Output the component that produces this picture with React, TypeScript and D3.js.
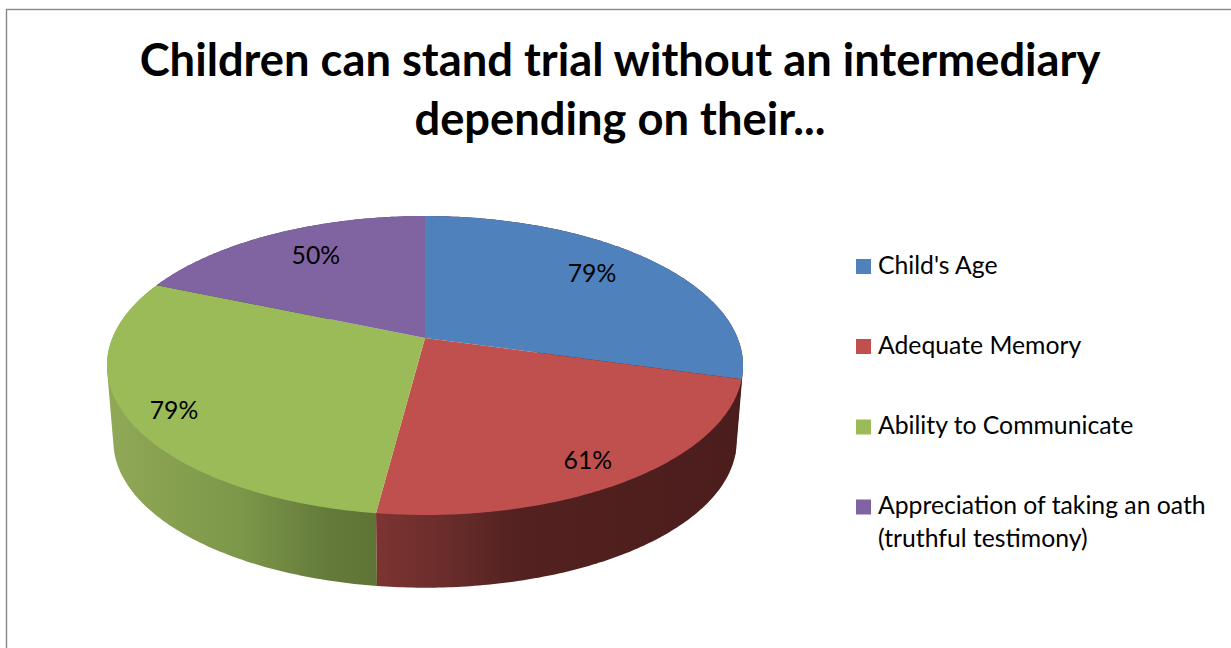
import React from "react";
import * as d3 from "d3";

const titleLines = ["Children can stand trial without an intermediary", "depending on their..."];
const categories = ["Child's Age", "Adequate Memory", "Ability to Communicate", "Appreciation of taking an oath"];
const legendExtraLine = [null, null, null, "(truthful testimony)"];
const values = [79, 61, 79, 50];
const valueLabels = ["79%", "61%", "79%", "50%"];
const colors = ["#4f81bd", "#c0504d", "#9bbb59", "#8064a2"];

// Shading along the side wall, per slice: [x, colour] stops
const sideStops: [number, string][][] = [
  [[700, "#4a1d1c"], [745, "#4a1d1c"]],
  [[377, "#7c3431"], [450, "#682c2a"], [520, "#522120"], [640, "#4f1f1e"], [745, "#4a1d1c"]],
  [[107, "#8fa957"], [240, "#7d9749"], [330, "#637a3a"], [377, "#5e7436"]],
  [[107, "#4d3c62"], [200, "#4d3c62"]],
];
const sideOrder = [0, 3, 2, 1];

const W = 1231;
const H = 648;
const FONT = "Lato, Carlito, Calibri, sans-serif";

// perspective disc: unit circle (u, v) -> screen
const CX = 425;
const K = 0.184;
const project = (bx: number, ay: number, y0: number) => (angle: number, r = 1): [number, number] => {
  const u = r * Math.sin(angle);
  const v = -r * Math.cos(angle);
  const d = 1 - K * v;
  return [CX + (bx * u) / d, y0 + (ay * v) / d];
};
const topDisc = project(312.6, 144.4, 338);
const bottomDisc = project(306.3, 141.5, 414.3);

// label anchor for each slice, as disc polar coordinates: [offset from mid angle (rad), radius]
const labelPolar: [number, number][] = [
  [-0.0445, 0.756],
  [0.035, 0.863],
  [-0.042, 0.868],
  [0.038, 0.752],
];

const legendRows = [273.5, 353.5, 434, 514];

export default function App() {
  const arcs = d3.pie<number>().sort(null)(values);
  const line = d3.line();
  const arcPoints = (disc: typeof topDisc, a0: number, a1: number) =>
    d3.range(0, 121).map((i) => disc(a0 + ((a1 - a0) * i) / 120));

  return (
    <svg
      width={W}
      height={H}
      style={{ position: "absolute", left: 0, top: 0, display: "block", background: "#fff" }}
    >
      <defs>
        {sideStops.map((stops, i) => {
          const x = d3.scaleLinear().domain([stops[0][0], stops[stops.length - 1][0]]).range([0, 1]);
          return (
            <linearGradient
              key={i}
              id={`side${i}`}
              gradientUnits="userSpaceOnUse"
              x1={stops[0][0]}
              x2={stops[stops.length - 1][0]}
              y1={0}
              y2={0}
            >
              {stops.map(([p, c], j) => (
                <stop key={j} offset={x(p)} stopColor={c} />
              ))}
            </linearGradient>
          );
        })}
      </defs>
      <rect x={6.5} y={9.5} width={W + 20} height={H + 20} fill="#fff" stroke="#878787" strokeWidth={1.4} />

      {titleLines.map((t, i) => (
        <text
          key={t}
          x={620}
          y={76 + i * 59}
          textAnchor="middle"
          fontFamily={FONT}
          fontWeight={700}
          fontSize={45.3}
          fill="#000"
        >
          {t}
        </text>
      ))}

      {sideOrder.map((i) => {
        const a = arcs[i];
        const hull = d3.polygonHull([
          ...arcPoints(topDisc, a.startAngle, a.endAngle),
          ...arcPoints(bottomDisc, a.startAngle, a.endAngle),
        ]);
        return <path key={`side${i}`} d={line(hull!) + "Z"} fill={`url(#side${i})`} />;
      })}
      {arcs.map((a, i) => (
        <path
          key={`top${i}`}
          d={line([topDisc(0, 0), ...arcPoints(topDisc, a.startAngle, a.endAngle)]) + "Z"}
          fill={colors[i]}
        />
      ))}
      {arcs.map((a, i) => {
        const mid = (a.startAngle + a.endAngle) / 2;
        const [x, y] = topDisc(mid + labelPolar[i][0], labelPolar[i][1]);
        return (
          <text key={`lab${i}`} x={x} y={y} dy={8.5} textAnchor="middle" fontFamily={FONT} fontSize={24.75} fill="#000">
            {valueLabels[i]}
          </text>
        );
      })}

      {categories.map((c, i) => (
        <g key={c}>
          <rect x={856} y={legendRows[i] - 14.5} width={15} height={15} fill={colors[i]} />
          <text x={878} y={legendRows[i]} fontFamily={FONT} fontSize={24.75} fill="#000">
            {c}
          </text>
          {legendExtraLine[i] && (
            <text x={878} y={legendRows[i] + 33} fontFamily={FONT} fontSize={24.75} fill="#000">
              {legendExtraLine[i]}
            </text>
          )}
        </g>
      ))}
    </svg>
  );
}
